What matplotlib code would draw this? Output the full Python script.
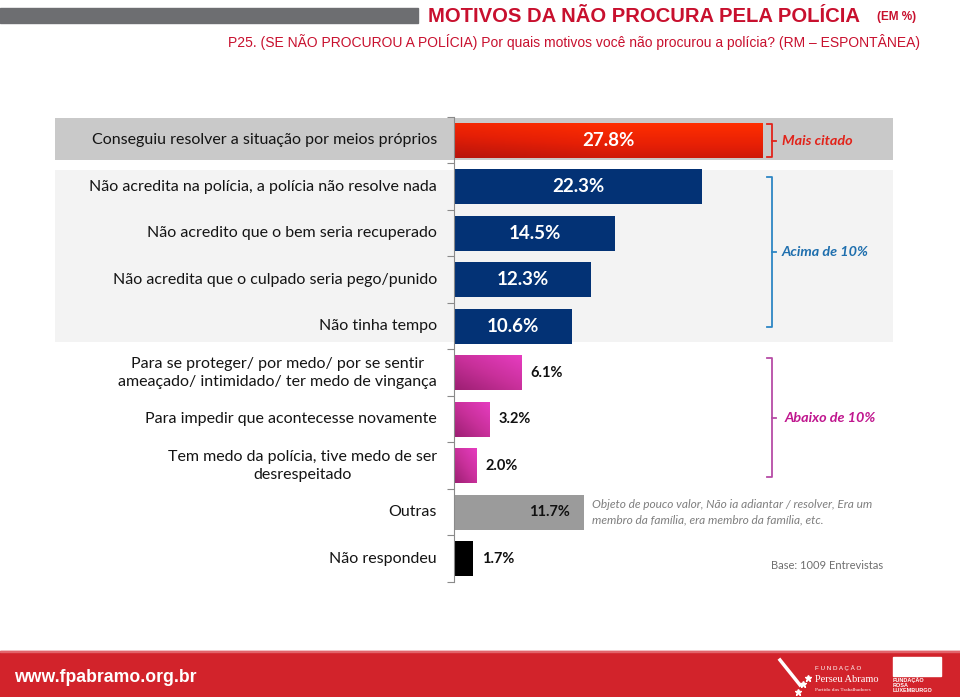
import matplotlib
matplotlib.use("Agg")
import matplotlib.pyplot as plt
import numpy as np
from matplotlib.colors import LinearSegmentedColormap
from matplotlib.patches import Rectangle

categories = [
    "Conseguiu resolver a situação por meios próprios",
    "Não acredita na polícia, a polícia não resolve nada",
    "Não acredito que o bem seria recuperado",
    "Não acredita que o culpado seria pego/punido",
    "Não tinha tempo",
    "Para se proteger/ por medo/ por se sentir\nameaçado/ intimidado/ ter medo de vingança",
    "Para impedir que acontecesse novamente",
    "Tem medo da polícia, tive medo de ser\ndesrespeitado",
    "Outras",
    "Não respondeu",
]
values = [27.8, 22.3, 14.5, 12.3, 10.6, 6.1, 3.2, 2.0, 11.7, 1.7]
groups = ["top", "above", "above", "above", "above", "below", "below", "below", "other", "nr"]
group_names = {"top": "Mais citado", "above": "Acima de 10%", "below": "Abaixo de 10%"}
outras_note = "Objeto de pouco valor, Não ia adiantar / resolver, Era um\nmembro da família, era membro da família, etc."
base_note = "Base: 1009 Entrevistas"
title = "MOTIVOS DA NÃO PROCURA PELA POLÍCIA"
title_unit = "(EM %)"
subtitle = "P25. (SE NÃO PROCUROU A POLÍCIA) Por quais motivos você não procurou a polícia? (RM – ESPONTÂNEA)"
site = "www.fpabramo.org.br"

colors = {"top": "#f02a05", "above": "#033275", "below": "#d0359f",
          "other": "#9b9b9b", "nr": "#000000"}
grad_maps = {
    "top": LinearSegmentedColormap.from_list("r", ["#b8140c", "#e51f06", "#ff2e00"]),
    "below": LinearSegmentedColormap.from_list("m", ["#9c1f72", "#c8309a", "#e63cc0"]),
}
bracket_colors = {"top": "#e2231a", "above": "#2d86c4", "below": "#b64ca6"}
bracket_text_colors = {"top": "#e2231a", "above": "#1f6fae", "below": "#c0168e"}

LABEL_FONT = ["Lato", "DejaVu Sans"]
SANS_FONT = ["Liberation Sans", "DejaVu Sans"]

fig = plt.figure(figsize=(9.6, 6.97), dpi=100)
ax = fig.add_axes([55 / 960, 1 - 582 / 697, 838 / 960, 465 / 697])
ax.set_xlim(-35.9, 39.5)
ax.set_ylim(9.5, -0.5)

# background bands
ax.axhspan(-0.48, 0.43, color="#c9c9c9", zorder=0, lw=0)
ax.axhspan(0.645, 4.34, color="#f3f3f3", zorder=0, lw=0)

y = np.arange(len(values))
bars = ax.barh(y, values, height=0.75, color=[colors[g] for g in groups], zorder=3, lw=0)

# gradients
xx, yy = np.meshgrid(np.linspace(0, 1, 60), np.linspace(1, 0, 30))
for b, g in zip(bars, groups):
    if g in grad_maps:
        x0, y0 = b.get_x(), b.get_y()
        w, h = b.get_width(), b.get_height()
        if g == "top":
            z = 0.75 * yy + 0.25 * np.clip(xx * 2, 0, 1)
        else:
            z = 0.5 * yy + 0.5 * xx
        im = ax.imshow(z, extent=(x0, x0 + w, y0 + h, y0), origin="upper",
                       cmap=grad_maps[g], aspect="auto", zorder=3.5, vmin=0, vmax=1)
        im.set_clip_path(b)

ax.set_xlim(-35.9, 39.5)
ax.set_ylim(9.5, -0.5)

for s in ["top", "right", "bottom"]:
    ax.spines[s].set_visible(False)
ax.spines["left"].set_position(("data", 0))
ax.spines["left"].set_color("#8a8a8a")
ax.spines["left"].set_zorder(4)
ax.set_yticks(np.arange(-0.5, len(values), 1))
ax.set_yticklabels([])
ax.tick_params(axis="y", length=5, color="#8a8a8a", direction="out")
ax.set_xticks([])
ax.patch.set_alpha(0)

# category labels
for i, c in enumerate(categories):
    ax.text(-1.55, i, c, ha="right", va="center", multialignment="center",
            fontsize=11.5, family=LABEL_FONT, color="#141414", zorder=5,
            linespacing=1.4)

# value labels
for i, (v, g) in enumerate(zip(values, groups)):
    lab = f"{v:.1f}%"
    if g in ("top", "above"):
        ax.text(v / 2, i, lab, ha="center", va="center", color="white",
                fontsize=13.5, fontweight="bold", family=LABEL_FONT, zorder=6)
    elif g == "other":
        ax.text(v - 1.3, i, lab, ha="right", va="center", color="#111111",
                fontsize=10.5, fontweight="bold", family=LABEL_FONT, zorder=6)
    else:
        ax.text(v + 0.8, i, lab, ha="left", va="center", color="#111111",
                fontsize=10.5, fontweight="bold", family=LABEL_FONT, zorder=6)

# brackets
spans = {"top": (-0.34, 0.37), "above": (0.8, 4.02), "below": (4.69, 7.25)}
bx, barm, btick = 28.6, 28.15, 28.95
for g, (a, b_) in spans.items():
    col = bracket_colors[g]
    ax.plot([barm, bx, bx, barm], [a, a, b_, b_], color=col, lw=1.3, clip_on=False, zorder=5)
    mid = (a + b_) / 2
    ax.plot([bx, btick], [mid, mid], color=col, lw=1.3, clip_on=False, zorder=5)
    ax.text(29.5 if g != "below" else 29.75, mid, group_names[g], ha="left", va="center",
            color=bracket_text_colors[g], fontsize=10.4, fontstyle="italic",
            fontweight="bold", family=LABEL_FONT, zorder=6)

ax.text(12.4, 8, outras_note, ha="left", va="center", color="#7f7f7f",
        fontsize=8.6, fontstyle="italic", family=LABEL_FONT, linespacing=1.45, zorder=6)
ax.text(28.5, 9.15, base_note, ha="left", va="center", color="#6f6f6f",
        fontsize=8, family=LABEL_FONT, zorder=6)

# header
fig.patches.append(Rectangle((0, 1 - 23 / 697), 418 / 960, 15 / 697,
                             transform=fig.transFigure, color="#6d6e71", zorder=0))
fig.text(428 / 960, 1 - 16 / 697, title, ha="left", va="center", color="#c8102e",
         fontsize=14.6, fontweight="bold", family=SANS_FONT)
fig.text(916 / 960, 1 - 17 / 697, title_unit, ha="right", va="center", color="#c8102e",
         fontsize=8.5, fontweight="bold", family=SANS_FONT)
fig.text(920 / 960, 1 - 42 / 697, subtitle, ha="right", va="center", color="#c8102e",
         fontsize=10, family=SANS_FONT)

# footer
fig.patches.append(Rectangle((0, 0), 1, 46 / 697, transform=fig.transFigure,
                             color="#d2232b", zorder=0))
fig.patches.append(Rectangle((0, 45 / 697), 1, 1.5 / 697, transform=fig.transFigure,
                             color="#e2646b", zorder=1))
fig.text(14 / 960, 1 - 677 / 697, site, ha="left", va="center", color="white",
         fontsize=12.7, fontweight="bold", family=SANS_FONT)
fig.text(815 / 960, 1 - 668 / 697, "F U N D A Ç Ã O", ha="left", va="center",
         color="white", fontsize=4.5, family=SANS_FONT)
fig.text(815 / 960, 1 - 680 / 697, "Perseu Abramo", ha="left", va="center",
         color="white", fontsize=7.5, family=["Liberation Serif", "DejaVu Serif"])
fig.text(815 / 960, 1 - 690 / 697, "Partido dos Trabalhadores", ha="left", va="center",
         color="white", fontsize=3.8, family=["Liberation Serif", "DejaVu Serif"])
fig.lines.append(plt.Line2D([780 / 960, 800 / 960], [1 - 660 / 697, 1 - 685 / 697],
                            transform=fig.transFigure, color="white", lw=2.5))
fig.lines.append(plt.Line2D([803 / 960, 808 / 960, 798 / 960], [1 - 684 / 697, 1 - 678 / 697, 1 - 692 / 697],
                            transform=fig.transFigure, color="white", lw=0,
                            marker="*", markersize=5))
fig.patches.append(Rectangle((893 / 960, 1 - 676 / 697), 48 / 960, 19 / 697,
                             transform=fig.transFigure, color="white", zorder=2))
fig.text(893 / 960, 1 - 685 / 697, "FUNDAÇÃO\nROSA\nLUXEMBURGO", ha="left", va="center",
         color="white", fontsize=4, fontweight="bold", linespacing=1.0,
         family=SANS_FONT)

fig.savefig("out.png", dpi=100)
